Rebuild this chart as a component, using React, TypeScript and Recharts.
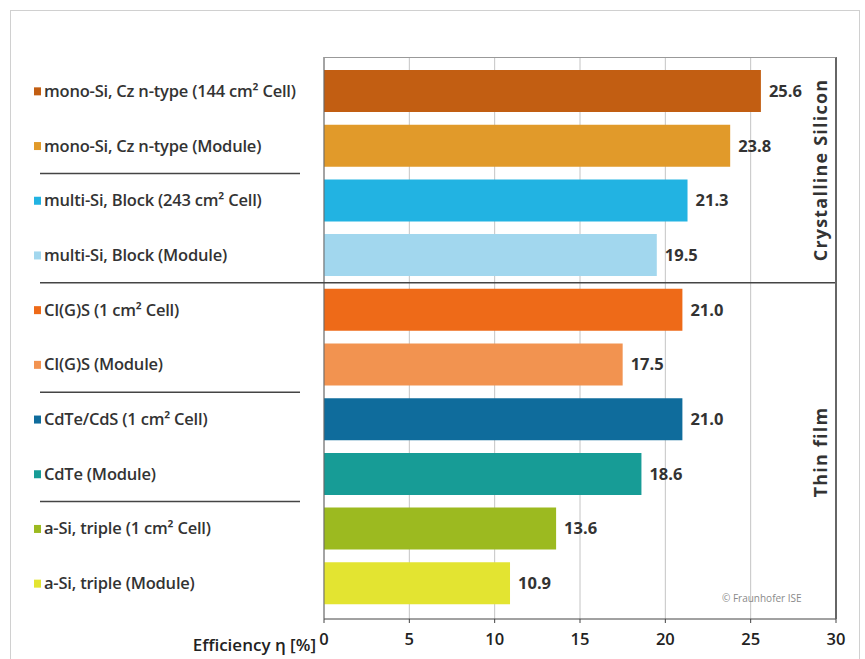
import { BarChart, Bar, XAxis, YAxis, CartesianGrid, Cell, LabelList } from "recharts";

const technologies = [
  "mono-Si, Cz n-type (144 cm² Cell)",
  "mono-Si, Cz n-type (Module)",
  "multi-Si, Block (243 cm² Cell)",
  "multi-Si, Block (Module)",
  "CI(G)S (1 cm² Cell)",
  "CI(G)S (Module)",
  "CdTe/CdS (1 cm² Cell)",
  "CdTe (Module)",
  "a-Si, triple (1 cm² Cell)",
  "a-Si, triple (Module)",
];
const efficiency = [25.6, 23.8, 21.3, 19.5, 21.0, 17.5, 21.0, 18.6, 13.6, 10.9];
const barColors = [
  "#c25e12", "#e19a2a", "#22b3e2", "#a2d7ee", "#ee6a18",
  "#f29350", "#0f6c9c", "#179c96", "#9cba20", "#e3e431",
];
const xTicks = [0, 5, 10, 15, 20, 25, 30];
// rows after which a separator line is drawn in the label column
const separatorsAfter = [1, 3, 5, 7];
const fullWidthSeparator = 3;

const data = technologies.map((name, i) => ({ name, value: efficiency[i] }));

const FONT = "'Open Sans', 'Noto Sans', sans-serif";
const BAND = 54.7;

function RowTick(props: any) {
  const { y, payload } = props;
  const i = payload.index;
  const lineY = y + BAND / 2;
  return (
    <g>
      <rect x={34} y={y - 4} width={7} height={8} fill={barColors[i]} />
      <text x={44} y={y} dy={5.5} fontSize={16.5} fontWeight={600} fill="#333" fontFamily={FONT} letterSpacing={-0.2}>
        {payload.value}
      </text>
      {separatorsAfter.includes(i) && (
        <line x1={40} x2={i === fullWidthSeparator ? 836 : 300} y1={lineY} y2={lineY} stroke="#444" strokeWidth={1.5} />
      )}
    </g>
  );
}

export default function App() {
  return (
    <div style={{ position: "absolute", left: 0, top: 0, width: 865, height: 659, background: "#fff", fontFamily: FONT }}>
      <div style={{ position: "absolute", left: 10, top: 10, width: 848, height: 660, borderTop: "1px solid #d0d0d0", borderLeft: "1px solid #d0d0d0", borderRight: "1px solid #d0d0d0" }} />
      <BarChart
        layout="vertical"
        width={865}
        height={659}
        data={data}
        margin={{ top: 57, right: 29, left: 0, bottom: 0 }}
        style={{ position: "absolute", left: 0, top: 0 }}
      >
        <CartesianGrid horizontal={false} stroke="#c4c4c4" />
        <XAxis
          type="number"
          domain={[0, 30]}
          ticks={xTicks}
          height={40}
          stroke="#444"
          tickSize={4}
          tick={{ fill: "#222", fontSize: 16.5, fontWeight: 600, fontFamily: FONT, dy: 8 }}
        />
        <YAxis
          type="category"
          dataKey="name"
          width={324}
          padding={{ top: 7, bottom: 8 }}
          axisLine={{ stroke: "#666" }}
          tickLine={false}
          tick={<RowTick />}
          interval={0}
        />
        <Bar dataKey="value" barSize={42} isAnimationActive={false}>
          {data.map((d, i) => (
            <Cell key={d.name} fill={barColors[i]} />
          ))}
          <LabelList
            dataKey="value"
            position="right"
            offset={8}
            formatter={(v: any) => Number(v).toFixed(1)}
            style={{ fill: "#333", fontSize: 16.5, fontWeight: 700, fontFamily: FONT }}
          />
        </Bar>
      </BarChart>
      <div style={{ position: "absolute", left: 324, top: 57, width: 511, height: 561, borderTop: "1px solid #999", borderRight: "2px solid #666", pointerEvents: "none" }} />
      <div style={{ position: "absolute", left: 820, top: 170, transform: "translate(-50%, -50%) rotate(-90deg)", whiteSpace: "nowrap", fontSize: 18, fontWeight: 700, letterSpacing: 1.2, color: "#333" }}>
        Crystalline Silicon
      </div>
      <div style={{ position: "absolute", left: 820, top: 452, transform: "translate(-50%, -50%) rotate(-90deg)", whiteSpace: "nowrap", fontSize: 18, fontWeight: 700, letterSpacing: 1.2, color: "#333" }}>
        Thin film
      </div>
      <div style={{ position: "absolute", left: 722, top: 591, fontSize: 10, color: "#8a8a8a", whiteSpace: "nowrap" }}>
        © Fraunhofer ISE
      </div>
      <div style={{ position: "absolute", right: 865 - 316, top: 633, fontSize: 17, fontWeight: 600, color: "#222", whiteSpace: "nowrap" }}>
        Efficiency η [%]
      </div>
    </div>
  );
}
